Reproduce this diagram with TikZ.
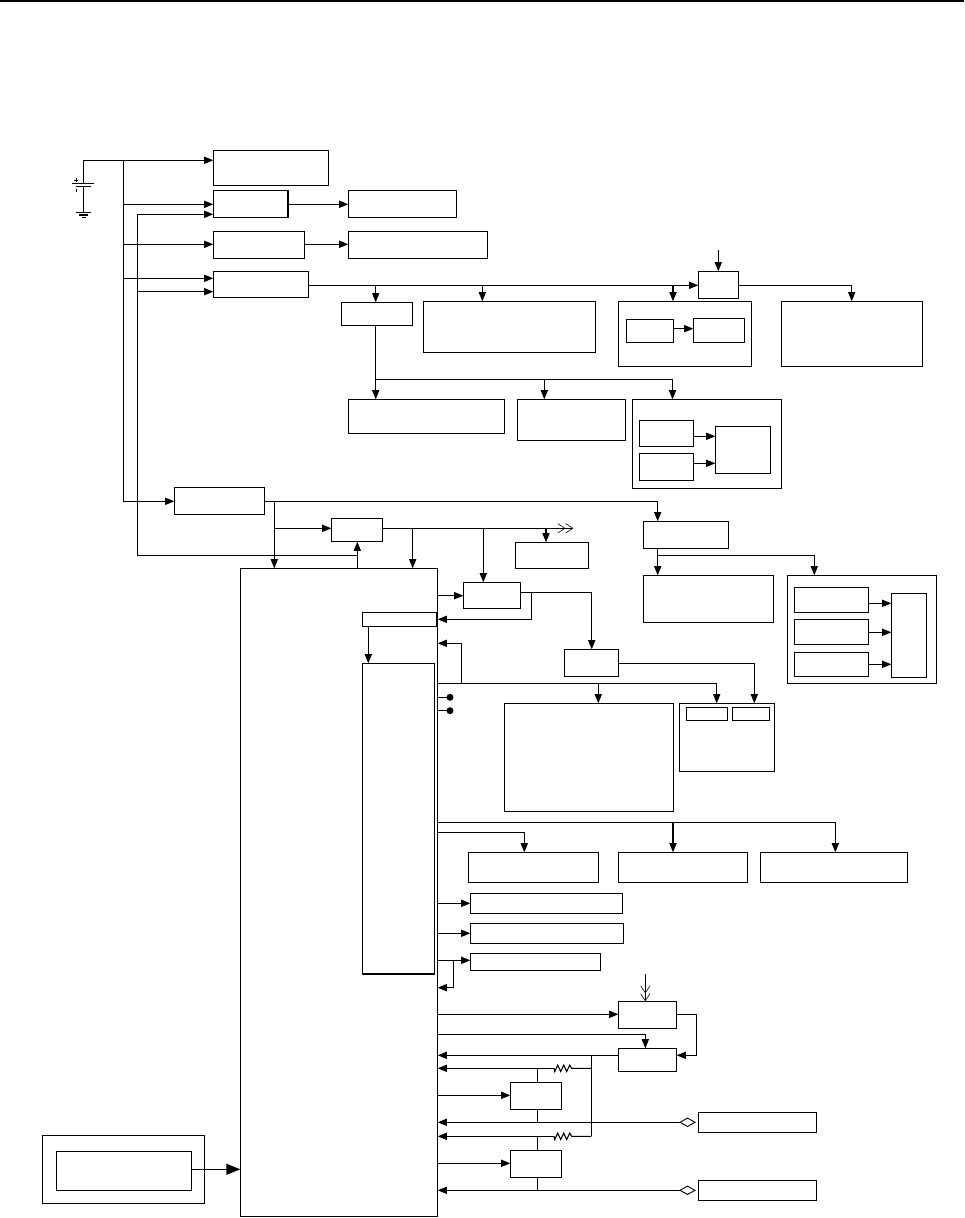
\documentclass[tikz,border=0pt]{standalone}
\usepackage{tikz}
\usetikzlibrary{arrows.meta,shapes.geometric}
\tikzset{
    blk/.style={draw,rectangle,inner sep=0pt,outer sep=0pt},
    tap/.style={draw,fill=white,diamond,inner sep=0pt,outer sep=0pt,minimum width=7.5pt,minimum height=4.2pt,line width=.45pt},
    dot/.style={fill,circle,inner sep=0pt,outer sep=0pt,minimum size=3.5pt},
    sig/.style={-{Triangle[length=4.6pt,width=3.6pt]}},
    bigsig/.style={-{Triangle[length=7pt,width=5.5pt]}},
    barb/.style={-{Straight Barb[length=3.5pt,width=4.6pt,line width=.3pt]Straight Barb[length=3.5pt,width=4.6pt,line width=.3pt]}}
}
\begin{document}
\begin{tikzpicture}[x=0.5pt,y=-0.5pt,line width=0.55pt]
\useasboundingbox (0,0) rectangle (964,1218);
\draw[line width=1pt] (0,1)--(964,1);
% boxes, pixel corners
\foreach \nm/\xa/\ya/\xb/\yb in {
    batbox/213.3/150.3/328.7/185.3,
    regb/213.3/190.3/288/217.7, loadb/348.3/190.3/456.7/217.7,
    regc/213.3/231.3/304.7/258.3, loadc/348.3/231.3/487.7/258.3,
    regd/213.3/271.3/308.7/297.3,
    rege/341.3/302.3/412.7/325.7, loadf/423.3/301.3/595.7/352.3,
    regg/698.3/271.3/738.7/298.7,
    grph/618.3/301.3/751.7/366.7, grpha/626.3/319.3/673.7/342.7, grphb/693.3/318.3/744.7/342.7,
    loadi/781.3/301.3/922.7/366.7,
    loadj/348.3/399.3/504.7/433.7, loadk/517.3/399.3/625.7/440.7,
    grpl/632.3/399.3/781.7/488.7, grpla/639.3/420.3/693.7/446.7, grplb/639.3/453.3/693.7/480.7,
    grplc/715.3/426.3/770.7/473.7,
    regm/174.3/487.3/264.7/514.3, regn/331.3/518.3/382.7/541.7,
    mainbox/240.3/568.3/437.7/1216.7, subtop/362.3/612.3/436.7/626.3, subcore/362.3/663.3/434.7/974,
    loadq/515.3/542.3/588.7/568.7, regp/463.3/582.3/520.7/608.7, regr/564.3/649.3/618.7/676.7,
    rego/643.3/521.3/728.7/548.7, loado/643.3/575.3/773.7/622.7,
    grpo/787.3/575.3/936.7/683.7, grpoa/794.3/587.3/868.7/612.7, grpob/794.3/619.3/868.7/644.7,
    grpoc/794.3/652.3/868.7/676.7, grpod/891.3/593.3/926.7/677.7,
    loadu/504.3/703.3/673.7/811.3,
    grpv/679.3/703.3/774.7/771.7, grpva/686.3/707.3/727.7/720.7, grpvb/732.3/707.3/769.7/720.7,
    outa/468.3/852.3/598.7/882.7, outb/618.3/852.3/747.7/882.7, outc/760.3/852.3/907.7/882.7,
    outd/470.3/893.3/622.7/913.7, oute/470.3/923.3/623.7/943.7, outf/470.3/953.3/600.7/970.7,
    regs/618.3/1001.3/676.7/1028.7, regt/618.3/1048.3/676.7/1071.7,
    regw/510.3/1082.3/561.7/1109.7, regx/510.3/1150.3/561.7/1177.7,
    portw/698.3/1112.3/816.7/1132.7, portx/698.3/1180.3/816.7/1200.7,
    extbox/42.3/1135.3/204.7/1203.3, extin/56.3/1151.3/191.7/1190.7}
    {\node[blk,minimum width={(\xb-\xa)*0.5pt},minimum height={(\yb-\ya)*0.5pt}]
        (\nm) at ({(\xa+\xb)/2},{(\ya+\yb)/2}) {};}
% battery and earth
\coordinate (batp) at (83.3,160.3);
\coordinate (batn) at (83.3,186.7);
\coordinate (gnd) at (83.3,212.3);
\draw (batp)--(83.3,183.3);
\draw (batn)--(gnd);
\draw (72,183.3)--(94,183.3);
\draw (76,186.7)--(90.7,186.7);
\draw (76,212.3)--(90.7,212.3);
\draw (79,215)--(88,215);
\draw (81.5,217.5)--(86,217.5);
\draw[line width=.4pt] (74.3,180)--(78,180) (76.2,178)--(76.2,182);
\draw[line width=.4pt] (76.2,189)--(76.2,192.5);
% supply rails
\coordinate (raila) at (123.3,160.3);
\coordinate (railb) at (137.3,214.3);
\coordinate (railc) at (137.3,555.3);
\draw[sig] (batp)--(batbox.west |- batp);
\draw[sig] (raila)--(123.3,501.3)--(regm.west |- 0,501.3);
\foreach \y/\t in {204.3/regb,244.3/regc,278.3/regd}
    {\draw[sig] (123.3,\y)--(\t.west |- 0,\y);}
\draw[sig] (mainbox.north -| 357.3,0)--(regn.south -| 357.3,0);
\draw (mainbox.north -| 357.3,0)|-(railc)--(railb);
\draw[sig] (railb)--(regb.west |- railb);
\draw[sig] (137.3,291.7)--(regd.west |- 0,291.7);
\draw[sig] (regb.east |- 0,204.3)--(loadb.west |- 0,204.3);
\draw[sig] (regc.east |- 0,244.3)--(loadc.west |- 0,244.3);
% upper branch
\draw[sig] (regd.east |- 0,285.3)--(regg.west |- 0,285.3);
\foreach \x/\t in {375.7/rege,482.3/loadf,673/grph}
    {\draw[sig] (\x,285.3)--(\t.north -| \x,0);}
\coordinate (ing) at (718.3,250);
\draw[sig] (ing)--(regg.north -| ing);
\draw[sig] (regg.east |- 0,285.3)-|(loadi.north -| 851.7,0);
\draw (rege.south -| 375.7,0)--(375.7,379.3);
\draw (375.7,379.3)--(672.5,379.3);
\foreach \x/\t in {375.7/loadj,544.3/loadk,672.5/grpl}
    {\draw[sig] (\x,379.3)--(\t.north -| \x,0);}
\draw[sig] (grpha.east |- 0,328.7)--(grphb.west |- 0,328.7);
\draw[sig] (grpla.east |- 0,436.3)--(grplc.west |- 0,436.3);
\draw[sig] (grplb.east |- 0,463.3)--(grplc.west |- 0,463.3);
% main supply
\draw (regm.east |- 0,501.3)--(657.7,501.3);
\draw[sig] (657.7,501.3)--(rego.north -| 657.7,0);
\draw[sig] (274.3,501.3)--(mainbox.north -| 274.3,0);
\draw[sig] (274.3,528.3)--(regn.west |- 0,528.3);
\coordinate (nout) at (573.3,528.3);
\draw[barb] (regn.east |- 0,528.3)--(nout);
\foreach \x/\t in {412.7/mainbox,483.3/regp,546/loadq}
    {\draw[sig] (\x,528.3)--(\t.north -| \x,0);}
\draw[sig] (rego.south -| 657.7,0)--(loado.north -| 657.7,0);
\draw[sig] (657.7,555.3)-|(grpo.north -| 814.3,0);
\foreach \s/\y in {grpoa/603.3,grpob/632.3,grpoc/664.3}
    {\draw[sig] (\s.east |- 0,\y)--(grpod.west |- 0,\y);}
\draw[sig] (subtop.south -| 368.3,0)--(subcore.north -| 368.3,0);
% right side of main box
\draw[sig] (mainbox.east |- 0,595.7)--(regp.west |- 0,595.7);
\draw[sig] (regp.east |- 0,592.7)-|(regr.north -| 591.7,0);
\draw[sig] (531.3,592.7)|-(mainbox.east |- 0,619.3);
\draw (mainbox.east |- 0,683.3)--(716.7,683.3);
\draw[sig] (716.7,683.3)--(grpv.north -| 716.7,0);
\draw[sig] (598.3,683.3)--(loadu.north -| 598.3,0);
\draw[sig] (461.3,683.3)|-(mainbox.east |- 0,643.3);
\draw[sig] (regr.east |- 0,663.3)-|(grpv.north -| 754.3,0);
\node[dot] (pina) at (450,697.3) {};
\node[dot] (pinb) at (450,710.7) {};
\draw (mainbox.east |- pina)--(pina);
\draw (mainbox.east |- pinb)--(pinb);
\draw[sig] (mainbox.east |- 0,822.3)-|(outc.north -| 835.3,0);
\draw[sig] (673,822.3)--(outb.north -| 673,0);
\draw[sig] (mainbox.east |- 0,832.3)-|(outa.north -| 524.3,0);
\foreach \t/\y in {outd/903.3,oute/933.3,outf/960.3,regs/1014.3,regw/1095.3,regx/1163.3}
    {\draw[sig] (mainbox.east |- 0,\y)--(\t.west |- 0,\y);}
\draw[sig] (453.3,960.3)|-(mainbox.east |- 0,987.7);
% lower part
\coordinate (ins) at (645.3,974);
\draw[barb] (ins)--(regs.north -| ins);
\draw[sig] (mainbox.east |- 0,1034.3)-|(regt.north -| 645.3,0);
\draw[sig] (regs.east |- 0,1014.3)-|(696.3,1055.3)--(regt.east |- 0,1055.3);
\draw[sig] (regt.west |- 0,1055.3)--(mainbox.east |- 0,1055.3);
\draw (591.3,1055.3)--(591.3,1136.3);
\foreach \ry in {1068.3,1136.3}
    {\draw (591.3,\ry)--(571.7,\ry)--++(-2,-3.2)--++(-3,6.4)--++(-3,-6.4)--++(-3,6.4)--++(-3,-6.4)--++(-3,6.4)--++(-0.7,-3.2);
    \draw[sig] (554.3,\ry)--(mainbox.east |- 0,\ry);}
\draw (537.3,1068.3)--(regw.north -| 537.3,0);
\draw (regw.south -| 537.3,0)--(537.3,1122.3);
\draw (537.3,1136.3)--(regx.north -| 537.3,0);
\draw (regx.south -| 537.3,0)--(537.3,1190.3);
\node[tap] (tapw) at (687.5,1122.3) {};
\node[tap] (tapx) at (687.5,1190.3) {};
\draw[sig] (tapw.west)--(mainbox.east |- tapw);
\draw[sig] (tapx.west)--(mainbox.east |- tapx);
\draw[bigsig] (extin.east |- 0,1169.3)--(mainbox.west |- 0,1169.3);
\end{tikzpicture}
\end{document}
